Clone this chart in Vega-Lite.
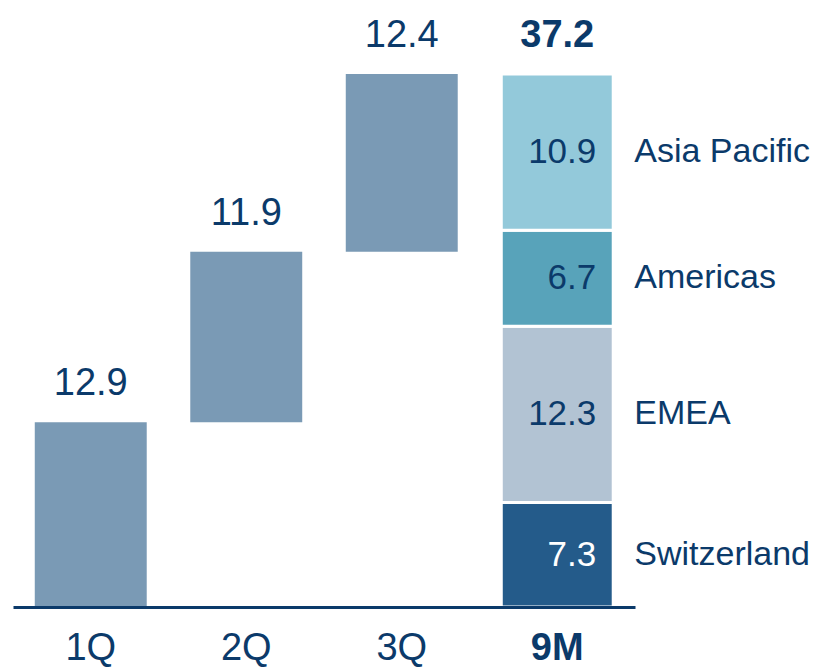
{
  "$schema": "https://vega.github.io/schema/vega-lite/v6.json",
  "width": 622,
  "height": 533,
  "autosize": {"type": "none"},
  "padding": {"left": 13, "top": 74, "right": 189, "bottom": 63},
  "background": "white",
  "config": {"view": {"stroke": null}, "font": "Liberation Sans"},
  "datasets": {
    "quarters": [
      {"period": "1Q", "start": 0, "end": 12.9, "label": "12.9"},
      {"period": "2Q", "start": 12.9, "end": 24.8, "label": "11.9"},
      {"period": "3Q", "start": 24.8, "end": 37.2, "label": "12.4"}
    ],
    "regions": [
      {"period": "9M", "region": "Switzerland", "value": 7.3, "order": 1},
      {"period": "9M", "region": "EMEA", "value": 12.3, "order": 2},
      {"period": "9M", "region": "Americas", "value": 6.7, "order": 3},
      {"period": "9M", "region": "Asia Pacific", "value": 10.9, "order": 4}
    ],
    "total": [{"period": "9M", "value": 37.2}]
  },
  "encoding": {
    "x": {
      "field": "period",
      "type": "nominal",
      "sort": ["1Q", "2Q", "3Q", "9M"],
      "scale": {"domain": ["1Q", "2Q", "3Q", "9M"], "paddingInner": 0.28, "paddingOuter": 0.14},
      "axis": {
        "title": null,
        "zindex": 1,
        "domainColor": "#0b3a6a",
        "domainWidth": 3,
        "ticks": false,
        "labelAngle": 0,
        "labelFont": "Liberation Sans",
        "labelFontSize": 38,
        "labelColor": "#0b3a6a",
        "labelPadding": 22,
        "labelFontWeight": {"condition": {"test": "datum.value === '9M'", "value": "bold"}, "value": "normal"}
      }
    }
  },
  "layer": [
    {
      "data": {"name": "quarters"},
      "mark": {"type": "bar", "color": "#7a9ab5"},
      "encoding": {
        "y": {"field": "start", "type": "quantitative", "scale": {"domain": [0, 37.2], "nice": false}, "axis": null},
        "y2": {"field": "end"}
      }
    },
    {
      "data": {"name": "regions"},
      "mark": {"type": "bar", "stroke": "white", "strokeWidth": 3},
      "encoding": {
        "y": {"field": "value", "type": "quantitative", "stack": "zero", "scale": {"domain": [0, 37.2], "nice": false}, "axis": null},
        "order": {"field": "order", "type": "quantitative"},
        "color": {
          "field": "region",
          "type": "nominal",
          "scale": {"domain": ["Switzerland", "EMEA", "Americas", "Asia Pacific"], "range": ["#245b8a", "#b2c3d3", "#58a3ba", "#93c9da"]},
          "legend": null
        }
      }
    },
    {
      "data": {"name": "quarters"},
      "mark": {"type": "text", "baseline": "alphabetic", "dy": -27, "fontSize": 38, "color": "#0b3a6a", "font": "Liberation Sans"},
      "encoding": {
        "y": {"field": "end", "type": "quantitative", "scale": {"domain": [0, 37.2], "nice": false}, "axis": null},
        "text": {"field": "label"}
      }
    },
    {
      "data": {"name": "total"},
      "mark": {"type": "text", "baseline": "alphabetic", "dy": -27, "fontSize": 38, "fontWeight": "bold", "color": "#0b3a6a", "font": "Liberation Sans"},
      "encoding": {
        "y": {"field": "value", "type": "quantitative", "scale": {"domain": [0, 37.2], "nice": false}, "axis": null},
        "text": {"field": "value", "format": ".1f"}
      }
    },
    {
      "data": {"name": "regions"},
      "transform": [
        {"stack": "value", "sort": [{"field": "order"}], "groupby": ["period"], "as": ["v0", "v1"]},
        {"calculate": "(datum.v0 + datum.v1) / 2", "as": "mid"}
      ],
      "mark": {"type": "text", "align": "right", "baseline": "middle", "dx": 39, "fontSize": 35, "font": "Liberation Sans"},
      "encoding": {
        "y": {"field": "mid", "type": "quantitative", "scale": {"domain": [0, 37.2], "nice": false}, "axis": null},
        "text": {"field": "value", "format": ".1f"},
        "color": {"condition": {"test": "datum.region === 'Switzerland'", "value": "white"}, "value": "#0b3a6a"}
      }
    },
    {
      "data": {"name": "regions"},
      "transform": [
        {"stack": "value", "sort": [{"field": "order"}], "groupby": ["period"], "as": ["v0", "v1"]},
        {"calculate": "(datum.v0 + datum.v1) / 2", "as": "mid"}
      ],
      "mark": {"type": "text", "align": "left", "baseline": "middle", "dx": 77, "fontSize": 34, "color": "#0b3a6a", "font": "Liberation Sans"},
      "encoding": {
        "y": {"field": "mid", "type": "quantitative", "scale": {"domain": [0, 37.2], "nice": false}, "axis": null},
        "text": {"field": "region"}
      }
    }
  ]
}
